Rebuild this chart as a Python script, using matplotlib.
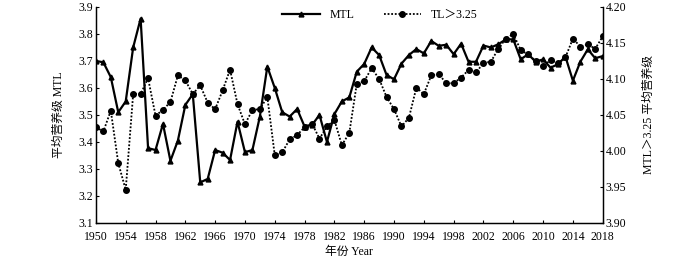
import matplotlib
matplotlib.use("Agg")
import matplotlib.pyplot as plt

plt.rcParams['font.family'] = ['Liberation Serif', 'Noto Sans CJK SC', 'DejaVu Sans']

years = list(range(1950, 2019))

mtl = [3.70, 3.695, 3.64, 3.51, 3.55, 3.75, 3.857, 3.377, 3.37, 3.467,
       3.33, 3.405, 3.537, 3.577, 3.25, 3.263, 3.37, 3.36, 3.333, 3.475,
       3.362, 3.37, 3.494, 3.679, 3.60, 3.51, 3.494, 3.522, 3.457, 3.463,
       3.50, 3.40, 3.503, 3.55, 3.565, 3.66, 3.689, 3.75, 3.722, 3.648,
       3.632, 3.69, 3.722, 3.744, 3.728, 3.774, 3.756, 3.760, 3.725, 3.764,
       3.697, 3.697, 3.757, 3.75, 3.762, 3.78, 3.78, 3.706, 3.725, 3.697,
       3.706, 3.675, 3.688, 3.716, 3.627, 3.697, 3.743, 3.71, 3.718]

tl = [4.033, 4.027, 4.056, 3.983, 3.946, 4.079, 4.079, 4.101, 4.049, 4.057,
      4.068, 4.105, 4.098, 4.079, 4.091, 4.067, 4.058, 4.084, 4.113, 4.065,
      4.037, 4.057, 4.058, 4.075, 3.994, 3.998, 4.016, 4.022, 4.033, 4.038,
      4.017, 4.034, 4.043, 4.008, 4.025, 4.093, 4.097, 4.115, 4.100, 4.075,
      4.058, 4.034, 4.046, 4.088, 4.079, 4.105, 4.107, 4.094, 4.094, 4.102,
      4.1125, 4.109, 4.122, 4.124, 4.142, 4.156, 4.1625, 4.140, 4.134, 4.125,
      4.118, 4.126, 4.122, 4.130, 4.156, 4.145, 4.148, 4.142, 4.159]

xticks = list(range(1950, 2019, 4))
left_ticks = [3.1, 3.2, 3.3, 3.4, 3.5, 3.6, 3.7, 3.8, 3.9]
right_ticks = [3.90, 3.95, 4.00, 4.05, 4.10, 4.15, 4.20]

fig = plt.figure(figsize=(7.0, 2.58), dpi=100)
ax = fig.add_axes([0.137, 0.136, 0.724, 0.837])
ax2 = ax.twinx()

l1, = ax.plot(years, mtl, color='black', lw=1.6, marker='^', ms=3.5, label='MTL')
l2, = ax2.plot(years, tl, color='black', lw=1.3, ls=(0, (1, 1)), marker='o', ms=4.0,
               label='TL＞3.25')

ax.set_xlim(1950, 2018)
ax.set_ylim(3.1, 3.9)
ax2.set_ylim(3.90, 4.20)
ax.set_xticks(xticks)
ax.set_xticklabels([str(y) for y in xticks], fontsize=8.5)
ax.set_yticks(left_ticks)
ax.set_yticklabels(['%.1f' % v for v in left_ticks], fontsize=8.5)
ax2.set_yticks(right_ticks)
ax2.set_yticklabels(['%.2f' % v for v in right_ticks], fontsize=8.5)

for a in (ax, ax2):
    a.spines['top'].set_visible(False)
    a.tick_params(direction='in', length=2.5, width=0.8, pad=2)
    for s in a.spines.values():
        s.set_linewidth(0.9)
ax.tick_params(axis='x', pad=6)

ax.set_xlabel('年份 Year', fontsize=8.5, labelpad=2)
ax.set_ylabel('平均营养级 MTL', fontsize=8.5, labelpad=10)
ax2.set_ylabel('MTL＞3.25 平均营养级', fontsize=8.5, rotation=90, labelpad=12)

ax.legend(handles=[l1, l2], loc='upper center', bbox_to_anchor=(0.56, 1.04), ncol=2,
          frameon=False, fontsize=8.5, handlelength=3.2, columnspacing=2.5,
          markerfirst=True)

fig.savefig('out.png', dpi=100)
